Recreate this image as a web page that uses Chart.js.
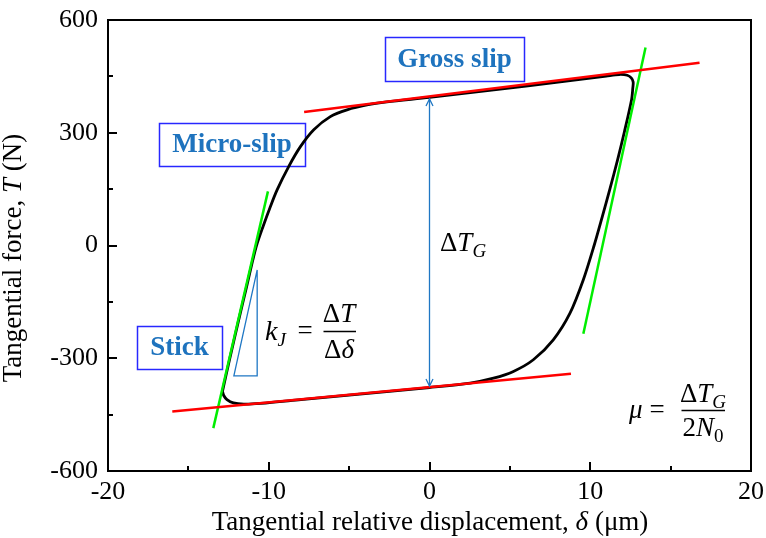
<!DOCTYPE html>
<html>
<head>
<meta charset="utf-8">
<script src="https://cdn.jsdelivr.net/npm/chart.js@4.4.1/dist/chart.umd.min.js"></script>
<style>
  html, body { margin: 0; padding: 0; background: #fff; }
  canvas { display: block; }
</style>
</head>
<body>
<canvas id="chart" width="766" height="538"></canvas>
<script>
// axis ranges / ticks
const xMin = -20, xMax = 20, xStep = 10;
const yMin = -600, yMax = 600, yStep = 300;

// hysteresis loop (closed)
const loopX = [-12.88, -12.42, -11.88, -11.38, -11.0, -10.76, -10.36, -9.93, -9.48, -8.76, -8.03, -7.2, -6.17, -5.13, -3.89, -2.65,
  0, 4, 8, 11, 11.8, 12.3, 12.55, 12.67,
  12.65, 12.57, 12.11, 11.70, 11.22, 10.75, 10.24, 9.57, 8.74, 7.7, 6.46, 5.22, 3.98, 2.53,
  0, -4, -8, -10.5, -11.55, -12.2, -12.6, -12.8, -12.88];
const loopY = [-388, -300, -200, -110, -40, 0, 50, 100, 148, 210, 263, 308, 343, 361, 374, 382,
  394, 414, 435, 451, 455, 453, 446, 435,
  420, 388, 300, 228, 150, 77, 0, -91, -180, -251, -304, -335, -353, -366,
  -378, -394, -410, -420, -422, -419, -410, -399, -388];

// gross-slip tangents (red) and stick tangents (green)
const upperRedX = [-7.8, 16.8], upperRedY = [355, 486];
const lowerRedX = [-16.0, 8.8], lowerRedY = [-442, -341];
const leftGreenX = [-13.45, -10.05], leftGreenY = [-486, 144];
const rightGreenX = [9.57, 13.44], rightGreenY = [-235, 527];

// stiffness triangle and the ΔT_G arrow
const triX = [-10.72, -12.17, -10.72, -10.72], triY = [-65, -347, -347, -65];
const arrowX = [0, 0], arrowY = [390, -374];

const SERIF = '"Liberation Serif", "Times New Roman", serif';
const BLUE = '#1f77c4';

const pts = (xs, ys) => xs.map((x, i) => ({ x: x, y: ys[i] }));
const line = (xs, ys, color, w, order) => ({
  data: pts(xs, ys), showLine: true, borderColor: color, borderWidth: w,
  pointRadius: 0, fill: false, order: order
});

// text runs: [text, italic, size, dy]
function runsWidth(ctx, runs) {
  let w = 0;
  runs.forEach(r => { ctx.font = (r[1] ? 'italic ' : '') + r[2] + 'px ' + SERIF; w += ctx.measureText(r[0]).width; });
  return w;
}
function drawRuns(ctx, runs, x, y, align) {
  let cx = x;
  const w = runsWidth(ctx, runs);
  if (align === 'center') cx = x - w / 2;
  if (align === 'right') cx = x - w;
  ctx.textAlign = 'left';
  ctx.textBaseline = 'alphabetic';
  runs.forEach(r => {
    ctx.font = (r[1] ? 'italic ' : '') + r[2] + 'px ' + SERIF;
    ctx.fillText(r[0], cx, y + (r[3] || 0));
    cx += ctx.measureText(r[0]).width;
  });
}

const boxes = [
  { text: 'Micro-slip', x: 159, y: 123, w: 146, h: 43 },
  { text: 'Gross slip', x: 385, y: 37, w: 139, h: 44 },
  { text: 'Stick', x: 137, y: 326, w: 85, h: 43 }
];

const decor = {
  id: 'decor',
  beforeDatasetsDraw(chart) {
    const ctx = chart.ctx;
    ctx.save();
    boxes.forEach(b => {
      ctx.strokeStyle = '#2828ff';
      ctx.lineWidth = 1.5;
      ctx.strokeRect(b.x + 0.5, b.y + 0.5, b.w, b.h);
      ctx.fillStyle = '#1e73be';
      ctx.font = 'bold 27px ' + SERIF;
      ctx.textAlign = 'center';
      ctx.textBaseline = 'middle';
      ctx.fillText(b.text, b.x + b.w / 2, b.y + b.h / 2 + 1);
    });
    ctx.restore();
  },
  afterDraw(chart) {
    const { ctx, chartArea: a, scales: { x, y } } = chart;
    ctx.save();
    // frame
    ctx.strokeStyle = '#000';
    ctx.lineWidth = 2;
    ctx.strokeRect(a.left, a.top, a.right - a.left, a.bottom - a.top);
    // inward ticks, major and minor
    ctx.beginPath();
    for (let v = xMin; v <= xMax; v += xStep / 2) {
      const px = Math.round(x.getPixelForValue(v));
      const len = (v % xStep === 0) ? 9 : 5;
      ctx.moveTo(px, a.bottom); ctx.lineTo(px, a.bottom - len);
    }
    for (let v = yMin; v <= yMax; v += yStep / 2) {
      const py = Math.round(y.getPixelForValue(v));
      const len = (v % yStep === 0) ? 9 : 5;
      ctx.moveTo(a.left, py); ctx.lineTo(a.left + len, py);
    }
    ctx.stroke();

    // arrow heads
    ctx.strokeStyle = BLUE;
    ctx.lineWidth = 1.3;
    const ax = x.getPixelForValue(arrowX[0]);
    const aTop = y.getPixelForValue(arrowY[0]);
    const aBot = y.getPixelForValue(arrowY[1]);
    ctx.beginPath();
    ctx.moveTo(ax - 3.5, aTop + 7); ctx.lineTo(ax, aTop); ctx.lineTo(ax + 3.5, aTop + 7);
    ctx.moveTo(ax - 3.5, aBot - 7); ctx.lineTo(ax, aBot); ctx.lineTo(ax + 3.5, aBot - 7);
    ctx.stroke();

    // formulas
    ctx.fillStyle = '#000';
    drawRuns(ctx, [['Δ', 0, 27], ['T', 1, 27], ['G', 1, 19, 6]], 440, 251, 'left');

    drawRuns(ctx, [['k', 1, 28], ['J', 1, 19, 6]], 265, 340, 'left');
    drawRuns(ctx, [['=', 0, 27]], 305, 339, 'center');
    drawRuns(ctx, [['Δ', 0, 27], ['T', 1, 27]], 339, 322, 'center');
    drawRuns(ctx, [['Δ', 0, 27], ['δ', 1, 27]], 339, 358, 'center');
    ctx.strokeStyle = '#000';
    ctx.lineWidth = 1.3;
    ctx.beginPath(); ctx.moveTo(323.5, 331.5); ctx.lineTo(356, 331.5); ctx.stroke();

    drawRuns(ctx, [['μ', 1, 27]], 629, 418, 'left');
    drawRuns(ctx, [['=', 0, 27]], 657, 418, 'center');
    drawRuns(ctx, [['Δ', 0, 27], ['T', 1, 27], ['G', 1, 19, 6]], 703, 402, 'center');
    drawRuns(ctx, [['2', 0, 27], ['N', 1, 27], ['0', 0, 19, 6]], 703, 436, 'center');
    ctx.beginPath(); ctx.moveTo(681.5, 410.5); ctx.lineTo(725, 410.5); ctx.stroke();

    // axis titles
    drawRuns(ctx, [['Tangential relative displacement, ', 0, 27], ['δ', 1, 27], [' (μm)', 0, 27]], 430, 530, 'center');
    ctx.save();
    ctx.translate(21, 258);
    ctx.rotate(-Math.PI / 2);
    drawRuns(ctx, [['Tangential force, ', 0, 27], ['T', 1, 27], [' (N)', 0, 27]], 0, 0, 'center');
    ctx.restore();
    ctx.restore();
  }
};

const tickFont = { family: SERIF, size: 26 };
// invisible tick marks only serve as label offset (real ticks point inward, drawn above)
const hiddenGrid = len => ({ display: true, color: 'rgba(0,0,0,0)', drawOnChartArea: false, drawTicks: true, tickLength: len });

new Chart(document.getElementById('chart').getContext('2d'), {
  type: 'scatter',
  data: {
    datasets: [
      line(upperRedX, upperRedY, '#ff0000', 2.5, 1),
      line(lowerRedX, lowerRedY, '#ff0000', 2.5, 1),
      line(leftGreenX, leftGreenY, '#00ee00', 2.5, 1),
      line(rightGreenX, rightGreenY, '#00ee00', 2.5, 1),
      line(triX, triY, BLUE, 1.3, 1),
      line(arrowX, arrowY, BLUE, 1.3, 1),
      Object.assign(line(loopX, loopY, '#000000', 2.8, 5), { tension: 0.3 })
    ]
  },
  options: {
    responsive: false,
    animation: false,
    devicePixelRatio: 1,
    layout: { padding: { left: 0, right: 15, top: 20, bottom: 0 } },
    plugins: { legend: { display: false }, tooltip: { enabled: false } },
    scales: {
      x: {
        type: 'linear', min: xMin, max: xMax,
        ticks: { stepSize: xStep, color: '#000', font: tickFont, padding: 0, maxRotation: 0 },
        grid: hiddenGrid(6),
        border: { display: false },
        afterFit: s => { s.height = 67; }
      },
      y: {
        type: 'linear', min: yMin, max: yMax,
        ticks: { stepSize: yStep, color: '#000', font: tickFont, padding: 0 },
        grid: hiddenGrid(10),
        border: { display: false },
        afterFit: s => { s.width = 108; }
      }
    }
  },
  plugins: [decor]
});
</script>
</body>
</html>
